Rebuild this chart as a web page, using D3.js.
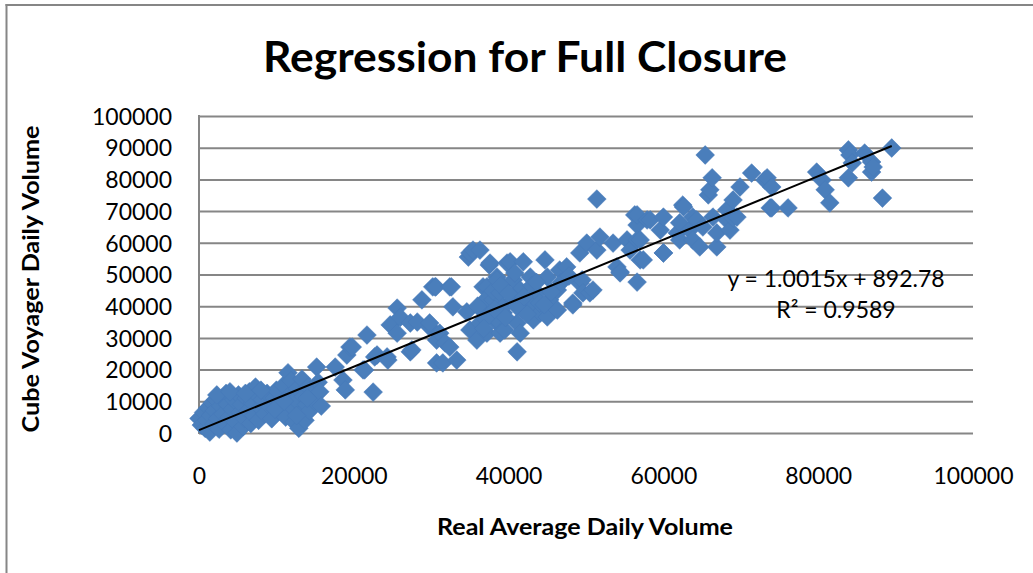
<!DOCTYPE html>
<html>
<head>
<meta charset="utf-8">
<script src="https://cdn.jsdelivr.net/npm/d3@7"></script>
<style>
html,body{margin:0;padding:0;background:#fff;}
svg{display:block;}
</style>
</head>
<body>
<svg id="chart" width="1033" height="573"></svg>
<script>
// ---- Data ----
const chartTitle = "Regression for Full Closure";
const xAxisTitle = "Real Average Daily Volume";
const yAxisTitle = "Cube Voyager Daily Volume";
const xTicks = [0, 20000, 40000, 60000, 80000, 100000];
const yTicks = [0, 10000, 20000, 30000, 40000, 50000, 60000, 70000, 80000, 90000, 100000];
const slope = 1.0015;
const intercept = 892.78;
const rSquared = 0.9589;
const equationText = "y = 1.0015x + 892.78";
const rSquaredText = "R² = 0.9589";

// real average daily volume (x) and cube voyager daily volume (y)
const lowX = [0,300,600,800,1000,1200,1400,1500,1700,1900,2000,2200,2400,2600,2800,3000,3100,3300,3500,3700,3900,4100,4300,4500,4700,4900,5100,5300,5500,5700,5900,6100,6300,6500,6700,6900,7100,7300,7500,7700,7900,8200,8500,8800,9100,9400,9700,10000,10300,10600,10900,11200,11500,11700,11900,12100,12300,12500,12700,12900,13100,13300,13500,13700,13900,14100,14300,14600,14900,15200,15400,15600,15800,2300,4000,6000,8000,9800,11000,12600,14000];
const lowY = [4600,2500,6500,1500,4000,8000,300,5500,9500,2800,7000,10500,4500,1200,8500,11000,6000,3000,12500,9000,5000,1000,7500,10500,3500,0,12000,6500,9000,2000,4500,11000,7000,13000,3000,9500,5500,14500,12000,4000,8000,10500,6000,12500,8500,4500,11000,13500,7000,9500,15000,5000,19000,12000,16500,8000,3500,10500,14000,1500,6000,17000,11500,4000,9000,14500,7000,12000,10000,20800,16000,13000,8500,12000,13000,12500,13500,7500,10000,5500,11000];

const midX = [17600,18600,18900,19100,19500,19800,21200,21400,21700,22500,22700,23000,24300,24400,24700,25600,25600,26000,27300,27300,27500,28200,28800,29800,29800,30200,30500,30600,30700,30700,31100,31500,31800,32400,32400,32600,32800,33300,34600,34800,35000,35000,35400,35900,36300,36300,36700,37200,37200,37200,37200,37500,37600,38000,38000,38500,38500,38500,38500,38900,38900,39300,39300,39500,39800,40200,40600,40600,41100,41100,41500,41500,41900,41900,42800,43200,43200,43700,44100,44700,45000,45000,45300,46300,46300,46600,47500,48300,48300,49200,49200,49500,49600,50100,50500,50900,51400,51400,51800,36000,37000,38200,39000,40000,41000,42000,43000,44000,45500,46800,47800,36800,39600,42400,44600,40800,43600];
const midY = [20800,16700,13600,24600,27100,27100,19900,19900,30900,12900,24000,24600,24000,23000,34100,31500,39400,36500,25600,34700,26200,35000,42000,33400,34700,46100,46100,46100,29300,22100,31500,22100,28400,27100,46100,46100,39800,23000,38200,55500,32500,56800,57700,29300,34700,57700,46100,46100,37900,31500,42500,53000,53600,42000,44800,34700,49200,48300,35700,44200,31500,37900,39800,32500,53600,54000,48300,42000,34700,25600,45100,31500,54000,38800,49200,41000,35700,44200,37900,54600,49200,36600,42000,45100,38800,51400,52400,41000,40400,56800,47300,48300,44200,59900,44200,45100,57700,73800,61800,40000,36000,39000,46500,44000,40000,43000,46500,41000,44500,47500,49500,33000,36500,37500,40500,50500,47500];

const highX = [53500,54000,54400,54400,55300,55700,56300,56600,56600,56600,56600,57000,57000,57400,57900,58300,59600,60000,60000,60000,61800,62100,62100,62500,62600,63400,63800,63800,64300,64700,65100,65400,65800,66000,66300,66400,66900,66900,68200,68200,68600,69000,69000,69500,69900,71400,73100,73400,73800,74000,74000,76100,79800,80500,80900,81500,83900,83900,84100,84400,86000,86900,86900,87100,88300,89500];
const highY = [59900,52400,50800,50500,60900,57700,68800,65600,60900,68800,47600,54600,60900,54600,67200,67200,64000,56800,68100,56800,63100,66300,60900,71900,71300,64000,68100,60900,67200,58700,65000,87700,75100,76700,80500,68100,58700,63100,70400,67200,64000,73500,67800,68100,77600,82000,79800,80500,71000,77600,71000,71000,82300,79800,76700,72600,89300,80500,87700,85200,88300,85500,82300,83900,74100,89900];

// ---- Layout ----
const svg = d3.select("#chart");
const plot = {left: 199, right: 973, top: 116, bottom: 433};
const x = d3.scaleLinear().domain([0, 100000]).range([plot.left, plot.right]);
const y = d3.scaleLinear().domain([0, 100000]).range([plot.bottom, plot.top]);
const gridColor = "#868686";
const markerColor = "#4a7ebb";
const font = "Lato, 'Open Sans', sans-serif";

// chart frame (only top & left visible in the reference)
svg.append("line").attr("x1", 6.5).attr("x2", 6.5).attr("y1", 4).attr("y2", 573)
  .attr("stroke", gridColor).attr("stroke-width", 2);
svg.append("line").attr("x1", 5.5).attr("x2", 1033).attr("y1", 5).attr("y2", 5)
  .attr("stroke", gridColor).attr("stroke-width", 2);

// title
svg.append("text").attr("x", 525).attr("y", 72).attr("text-anchor", "middle")
  .attr("font-family", font).attr("font-weight", "bold").attr("font-size", 42)
  .attr("textLength", 524).attr("lengthAdjust", "spacingAndGlyphs")
  .attr("fill", "#000").text(chartTitle);

// y gridlines + axis
const yAxis = d3.axisLeft(y).tickValues(yTicks).tickSize(-(plot.right - plot.left)).tickPadding(27).tickFormat(d3.format("d"));
const gy = svg.append("g").attr("transform", `translate(${plot.left},0)`).call(yAxis);
gy.select(".domain").remove();
gy.selectAll(".tick line").attr("stroke", gridColor).attr("stroke-width", 2);
gy.selectAll(".tick text").attr("font-family", font).attr("font-size", 23).attr("fill", "#000").attr("dy", "0.36em");

// left vertical axis line
svg.append("line").attr("x1", plot.left).attr("x2", plot.left).attr("y1", plot.top - 1).attr("y2", plot.bottom + 1)
  .attr("stroke", gridColor).attr("stroke-width", 2);

// x axis labels
const xAxis = d3.axisBottom(x).tickValues(xTicks).tickSize(0).tickPadding(35).tickFormat(d3.format("d"));
const gx = svg.append("g").attr("transform", `translate(0,${plot.bottom})`).call(xAxis);
gx.select(".domain").remove();
gx.selectAll(".tick text").attr("font-family", font).attr("font-size", 23).attr("fill", "#000");

// axis titles
svg.append("text").attr("x", 585).attr("y", 535).attr("text-anchor", "middle")
  .attr("font-family", font).attr("font-weight", "bold").attr("font-size", 22)
  .attr("textLength", 296).attr("lengthAdjust", "spacingAndGlyphs")
  .text(xAxisTitle);
svg.append("text").attr("transform", "translate(39,279) rotate(-90)").attr("text-anchor", "middle")
  .attr("font-family", font).attr("font-weight", "bold").attr("font-size", 22)
  .attr("textLength", 307).attr("lengthAdjust", "spacingAndGlyphs")
  .text(yAxisTitle);

// points
const points = [];
[[lowX, lowY], [midX, midY], [highX, highY]].forEach(([xs, ys]) => {
  xs.forEach((v, i) => points.push([v, ys[i]]));
});
const diamond = d3.symbol().type(d3.symbolDiamond2).size(225);
svg.append("g").selectAll("path").data(points).join("path")
  .attr("transform", d => `translate(${x(d[0])},${y(d[1])})`)
  .attr("d", diamond)
  .attr("fill", markerColor)
  .attr("stroke", "#4679b8").attr("stroke-width", 0.5);

// trendline
const xMin = d3.min(points, d => d[0]);
const xMax = d3.max(points, d => d[0]);
svg.append("line")
  .attr("x1", x(xMin)).attr("y1", y(slope * xMin + intercept))
  .attr("x2", x(xMax)).attr("y2", y(slope * xMax + intercept))
  .attr("stroke", "#000").attr("stroke-width", 2);

// equation label
svg.append("text").attr("x", 836).attr("y", 287).attr("text-anchor", "middle")
  .attr("font-family", font).attr("font-size", 23).attr("fill", "#000").text(equationText);
svg.append("text").attr("x", 836).attr("y", 318).attr("text-anchor", "middle")
  .attr("font-family", font).attr("font-size", 23).attr("fill", "#000").text(rSquaredText);
</script>
</body>
</html>
